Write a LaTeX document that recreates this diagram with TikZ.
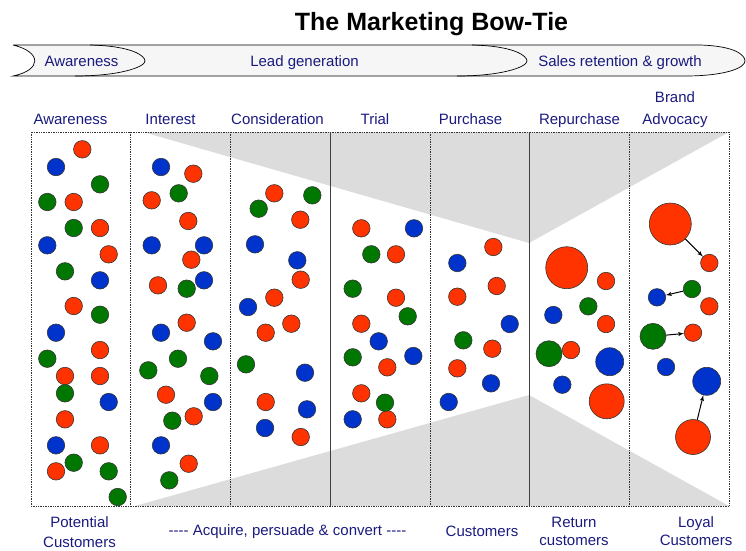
\documentclass[tikz,border=0pt]{standalone}
\usepackage{fontspec}
\setmainfont{Liberation Sans}
\usetikzlibrary{arrows}
\definecolor{dotred}{RGB}{255,51,0}
\definecolor{dotblue}{RGB}{0,51,204}
\definecolor{dotgreen}{RGB}{0,119,0}
\definecolor{navy}{RGB}{26,26,128}
\definecolor{bowgray}{RGB}{220,220,220}
\definecolor{bandgray}{RGB}{246,246,246}
\begin{document}
\begin{tikzpicture}[x=1pt, y=-1pt,
		dot/.style={circle, draw=black!80, line width=0.6pt, minimum size=17.5pt, inner sep=0pt},
		reddot/.style={dot, fill=dotred},
		bluedot/.style={dot, fill=dotblue},
		greendot/.style={dot, fill=dotgreen},
		lbl/.style={font=\fontsize{15}{18}\selectfont, text=navy, inner sep=0pt},
		divider/.style={densely dotted, line width=0.7pt, black!80},
		>=latex']
	\useasboundingbox (0,0) rectangle (746,550);
	\node[font=\bfseries\fontsize{25}{30}\selectfont, anchor=base, inner sep=0pt] (title) at (431.5,30) {The Marketing Bow-Tie};
	\draw[fill=bandgray, line width=0.7pt] (13,45) -- (700,45) .. controls (735,46) and (745,55) .. (745,61)
		.. controls (745,68) and (725,76) .. (685,76) -- (13,76) .. controls (42,70) and (42,52) .. (13,45);
	\foreach \x in {145,527}
		\draw[line width=0.7pt] (\x-55,45) .. controls (\x-12,46) and (\x,56) .. (\x,61)
			.. controls (\x,67) and (\x-25,76) .. (\x-70,76);
	\node[lbl, anchor=base] (bawareness) at (81.5,66.5) {Awareness};
	\node[lbl, anchor=base] (bleadgen) at (304.5,66.5) {Lead generation};
	\node[lbl, anchor=base] (bsales) at (620,66.5) {Sales retention \& growth};
	\fill[bowgray] (143,132) -- (529,243) -- (729,132) -- cycle;
	\fill[bowgray] (135,506) -- (529,395) -- (729,506) -- cycle;
	\draw[divider] (31,132) rectangle (729,506);
	\foreach \x in {130,230,430,629}
		\draw[divider] (\x,132) -- (\x,506);
	\foreach \x in {330,529}
		\draw[black!75, line width=0.6pt] (\x,132) -- (\x,506);
	\foreach \x/\y [count=\i] in {82.3/149.3, 73.7/202, 100/228, 108.7/254.3, 73.7/306, 100/350, 65/376, 100/376,
			65/419.3, 100/445.3, 56/471.3, 193.3/173.7, 151.7/200.3, 188.3/221, 191.3/259.7, 158/285.3,
			186.7/322.7, 166/394.7, 193.7/416.3, 188.7/463.7, 274.3/193.3, 300.3/219.7, 300.7/279.7,
			274.3/297.7, 291.3/323.7, 265.7/332.7, 265.7/402, 300.7/437, 361.3/228.3, 396/254.3,
			396/297.7, 361.3/323.7, 387.3/367.3, 361.3/393.3, 387.3/419.3, 493.3/247, 496.7/286,
			457.3/296.7, 492.3/348.7, 457.3/368.3, 606/281, 606/324, 571/350}
		\node[reddot] (red\i) at (\x,\y) {};
	\foreach \x/\y [count=\i] in {56/167, 47.3/245.3, 100/280.3, 56/332.7, 108.7/402, 56/445.3, 161/167,
			151.7/245.3, 204/245.3, 204/280.3, 161/332.7, 213/341.3, 213/402, 161/445.3, 255/244.3,
			297.3/260.3, 248/307, 305/372.7, 307/409.3, 265/428, 414/228.3, 378.7/341.3, 413.3/356,
			352.7/419.3, 457.3/263, 509.7/324, 491/383.3, 448.7/402, 553.3/315, 562.3/384.7}
		\node[bluedot] (blue\i) at (\x,\y) {};
	\foreach \x/\y [count=\i] in {100/184.3, 47.3/202, 73.7/228, 65/271.3, 100/314.7, 47.3/358.7, 65/393.3,
			73.7/462.7, 108.7/471.3, 117.7/497, 178.7/193.3, 186.7/288.7, 178/358.7, 148.3/370.3,
			209.3/376, 172.3/420.7, 169.3/480.3, 312.3/195.3, 258.7/208.7, 246/364.3, 371.3/254.3,
			352.7/288.7, 407.7/316.3, 352.7/357.3, 385/402.7, 463.3/340.3, 588.3/306.3}
		\node[greendot] (green\i) at (\x,\y) {};
	\node[reddot, minimum size=42pt] (repred) at (566.7,267.7) {};
	\node[greendot, minimum size=26pt] (repgreen) at (549,353.7) {};
	\node[bluedot, minimum size=28pt] (repblue) at (609.7,361.7) {};
	\node[reddot, minimum size=35pt] (repred2) at (606.7,401.3) {};
	\node[reddot, minimum size=42pt] (advbigred) at (670.3,224) {};
	\node[reddot] (advred) at (709.3,263) {};
	\node[greendot] (advgreen) at (692,289) {};
	\node[bluedot] (advblue) at (657,297.3) {};
	\node[reddot] (advred2) at (709.3,306.3) {};
	\node[greendot, minimum size=26pt] (advbiggreen) at (653,336.3) {};
	\node[reddot] (advred3) at (693,332.7) {};
	\node[bluedot] (advblue2) at (666,367) {};
	\node[bluedot, minimum size=28pt] (advbigblue) at (706.7,381.3) {};
	\node[reddot, minimum size=35pt] (advbigred2) at (693,437) {};
	\draw[->, line width=1pt] (advbigred) -- (advred);
	\draw[->, line width=1pt] (advgreen) -- (advblue);
	\draw[->, line width=1pt] (advbiggreen) -- (advred3);
	\draw[->, line width=1pt] (advbigred2) -- (advbigblue);
	\node[lbl, anchor=base] (hawareness) at (70.5,124.5) {Awareness};
	\node[lbl, anchor=base] (hinterest) at (170.5,124.5) {Interest};
	\node[lbl, anchor=base] (hconsideration) at (277.5,124.5) {Consideration};
	\node[lbl, anchor=base] (htrial) at (375,124.5) {Trial};
	\node[lbl, anchor=base] (hpurchase) at (470.5,124.5) {Purchase};
	\node[lbl, anchor=base] (hrepurchase) at (579.5,124.5) {Repurchase};
	\node[lbl, anchor=north, align=center, font=\fontsize{15}{22}\selectfont] (hadvocacy) at (675,91.6) {Brand\\Advocacy};
	\node[lbl, anchor=north, align=center, font=\fontsize{15}{20}\selectfont] (fpotential) at (79.5,516) {Potential\\Customers};
	\node[lbl, anchor=base] (facquire) at (287.5,535.5) {-{}-{}-{}- Acquire, persuade \& convert -{}-{}-{}-};
	\node[lbl, anchor=base] (fcustomers) at (482,536) {Customers};
	\node[lbl, anchor=north, align=center] (freturn) at (574,516.6) {Return\\customers};
	\node[lbl, anchor=north, align=center] (floyal) at (696,516.6) {Loyal\\Customers};
\end{tikzpicture}
\end{document}
